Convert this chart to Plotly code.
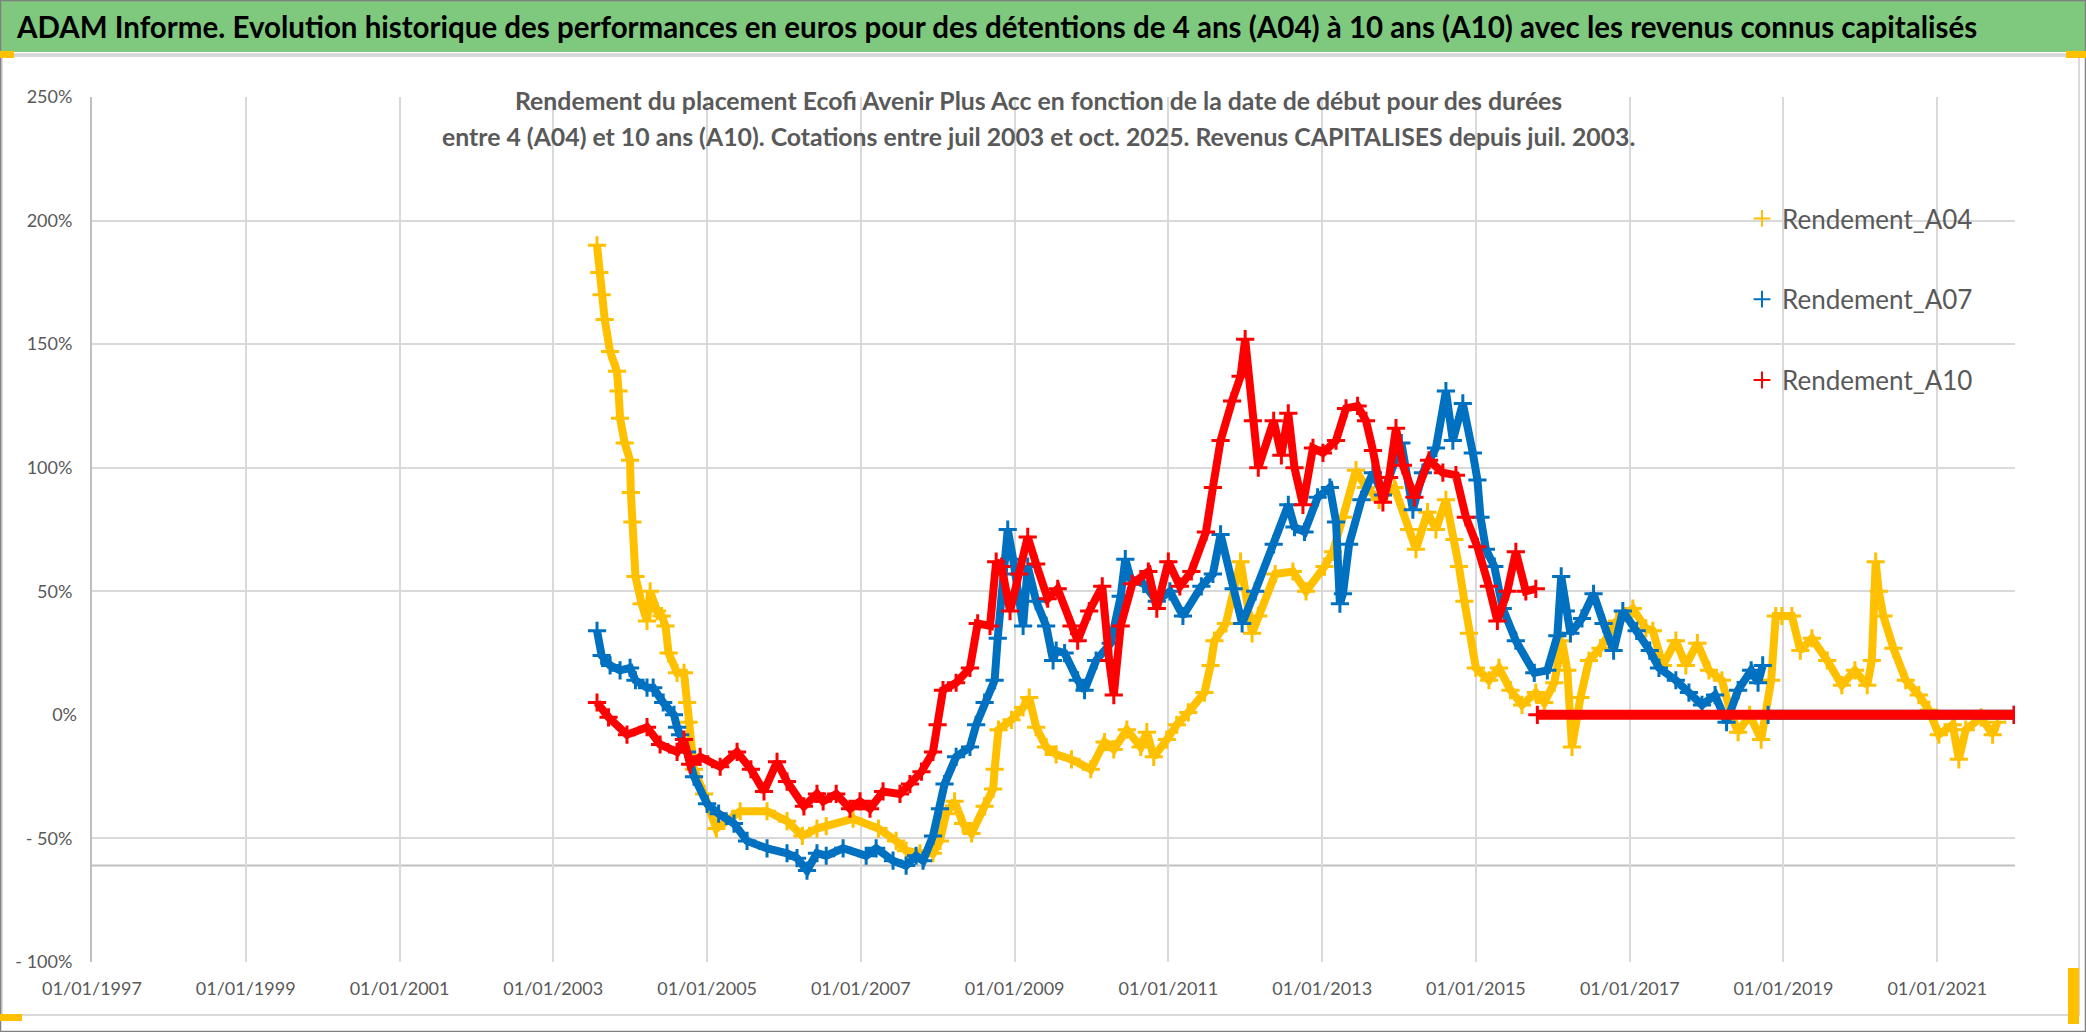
import datetime as dt
import plotly.graph_objects as go

# ---------------- data ----------------
# time as decimal year, values in percent
A04_T = [2003.57, 2003.60, 2003.63, 2003.67, 2003.74, 2003.83, 2003.85, 2003.87, 2003.93, 2004.00,
         2004.01, 2004.03, 2004.07, 2004.15, 2004.22, 2004.26, 2004.35, 2004.41, 2004.46, 2004.50,
         2004.61, 2004.70, 2004.74, 2004.76, 2004.83, 2004.96, 2005.12, 2005.43, 2005.78, 2006.04,
         2006.24, 2006.43, 2006.55, 2006.90, 2007.23, 2007.46, 2007.59, 2007.77, 2007.94, 2008.03,
         2008.11, 2008.22, 2008.33, 2008.44, 2008.61, 2008.72, 2008.74, 2008.79, 2008.96, 2009.11,
         2009.19, 2009.28, 2009.41, 2009.54, 2009.74, 2009.99, 2010.17, 2010.29, 2010.46, 2010.64,
         2010.72, 2010.81, 2010.98, 2011.11, 2011.26, 2011.47, 2011.55, 2011.60, 2011.75, 2011.94,
         2012.09, 2012.17, 2012.39, 2012.62, 2012.79, 2013.03, 2013.14, 2013.27, 2013.44, 2013.57,
         2013.74, 2013.94, 2014.13, 2014.22, 2014.37, 2014.48, 2014.61, 2014.72, 2014.78, 2014.85,
         2014.91, 2015.00, 2015.17, 2015.30, 2015.45, 2015.60, 2015.78, 2015.89, 2016.02, 2016.12,
         2016.19, 2016.25, 2016.36, 2016.47, 2016.62, 2016.83, 2017.04, 2017.21, 2017.30, 2017.43,
         2017.60, 2017.73, 2017.88, 2018.03, 2018.20, 2018.32, 2018.41, 2018.56, 2018.71, 2018.84,
         2018.90, 2018.98, 2019.11, 2019.22, 2019.37, 2019.57, 2019.76, 2019.93, 2020.09, 2020.15,
         2020.20, 2020.24, 2020.30, 2020.43, 2020.59, 2020.76, 2020.89, 2021.02, 2021.20, 2021.28,
         2021.37, 2021.57, 2021.72, 2021.78]
A04_V = [190, 179, 170, 160, 147, 139, 131, 120, 110, 103,
         90, 78, 56, 45, 38, 50, 42, 40, 36, 25,
         17, 17, 5, -3, -22, -32, -46, -39, -39, -43,
         -49, -46, -45, -42, -46, -51, -55, -56, -56, -51,
         -40, -35, -44, -48, -37, -30, -22, -6, -2, 3,
         7, -5, -13, -16, -18, -22, -11, -14, -6, -13,
         -7, -17, -10, -4, 1, 9, 20, 30, 37, 62,
         33, 40, 57, 58, 50, 60, 66, 80, 99, 92,
         87, 92, 75, 67, 82, 75, 87, 71, 60, 46,
         33, 19, 14, 19, 10, 4, 9, 5, 13, 30,
         18, -13, 7, 22, 27, 38, 43, 35, 34, 20,
         30, 20, 29, 18, 14, 0, -7, 0, -10, 14,
         40, 40, 40, 26, 31, 22, 12, 18, 12, 22,
         62, 50, 40, 27, 14, 8, 2, -8, -4, -18,
         -6, -1, -8, -3]

A07_T = [2003.57, 2003.63, 2003.74, 2003.87, 2004.00, 2004.07, 2004.22, 2004.30, 2004.43, 2004.57,
         2004.61, 2004.65, 2004.74, 2004.83, 2005.00, 2005.15, 2005.35, 2005.52, 2005.78, 2006.04,
         2006.17, 2006.30, 2006.43, 2006.55, 2006.77, 2007.07, 2007.20, 2007.42, 2007.59, 2007.72,
         2007.81, 2007.94, 2008.03, 2008.09, 2008.24, 2008.42, 2008.50, 2008.61, 2008.74, 2008.78,
         2008.85, 2008.91, 2008.98, 2009.06, 2009.11, 2009.17, 2009.28, 2009.41, 2009.50, 2009.54,
         2009.65, 2009.82, 2009.91, 2010.06, 2010.25, 2010.38, 2010.44, 2010.51, 2010.68, 2010.85,
         2011.02, 2011.19, 2011.43, 2011.58, 2011.68, 2011.85, 2011.96, 2012.13, 2012.37, 2012.56,
         2012.64, 2012.77, 2012.94, 2013.10, 2013.18, 2013.23, 2013.27, 2013.35, 2013.51, 2013.66,
         2013.79, 2014.03, 2014.18, 2014.31, 2014.48, 2014.61, 2014.70, 2014.83, 2014.96, 2015.02,
         2015.06, 2015.13, 2015.24, 2015.35, 2015.52, 2015.76, 2015.93, 2016.06, 2016.11, 2016.17,
         2016.23, 2016.38, 2016.53, 2016.66, 2016.79, 2016.91, 2017.09, 2017.26, 2017.38, 2017.60,
         2017.77, 2017.94, 2018.11, 2018.26, 2018.41, 2018.58, 2018.67, 2018.73]
A07_V = [34, 24, 20, 18, 19, 14, 11, 11, 5, 0,
         -5, -8, -15, -25, -36, -40, -44, -51, -54, -56,
         -58, -63, -56, -57, -54, -57, -54, -59, -61, -57,
         -59, -49, -38, -28, -17, -13, -4, 5, 14, 31,
         57, 75, 63, 49, 36, 60, 46, 36, 22, 26,
         25, 14, 10, 22, 29, 48, 63, 55, 53, 46,
         50, 40, 52, 57, 73, 51, 37, 50, 69, 85,
         76, 74, 88, 92, 78, 45, 49, 69, 87, 98,
         89, 110, 83, 98, 108, 131, 111, 126, 106, 95,
         80, 67, 60, 43, 30, 17, 18, 32, 56, 42,
         33, 39, 49, 37, 26, 42, 34, 26, 19, 14,
         9, 4, 8, -3, 10, 18, 13, 20]

A10_T = [2003.57, 2003.72, 2003.96, 2004.22, 2004.39, 2004.61, 2004.70, 2004.78, 2004.91, 2005.17,
         2005.39, 2005.57, 2005.74, 2005.91, 2006.04, 2006.26, 2006.43, 2006.51, 2006.68, 2006.86,
         2006.99, 2007.12, 2007.29, 2007.51, 2007.64, 2007.79, 2007.94, 2008.00, 2008.07, 2008.24,
         2008.42, 2008.52, 2008.68, 2008.76, 2008.83, 2008.94, 2009.06, 2009.17, 2009.28, 2009.43,
         2009.56, 2009.74, 2009.82, 2009.97, 2010.14, 2010.23, 2010.29, 2010.38, 2010.53, 2010.74,
         2010.85, 2011.00, 2011.15, 2011.30, 2011.49, 2011.58, 2011.68, 2011.83, 2011.94, 2012.00,
         2012.10, 2012.17, 2012.37, 2012.47, 2012.56, 2012.64, 2012.75, 2012.88, 2013.01, 2013.18,
         2013.31, 2013.46, 2013.57, 2013.66, 2013.79, 2013.87, 2013.96, 2014.05, 2014.20, 2014.39,
         2014.57, 2014.74, 2014.87, 2015.02, 2015.17, 2015.28, 2015.41, 2015.52, 2015.65, 2015.78]
A10_V = [5, -1, -8, -5, -12, -15, -10, -20, -17, -21,
         -15, -22, -31, -19, -27, -37, -32, -35, -32, -38,
         -35, -38, -31, -32, -28, -23, -15, -4, 10, 13,
         19, 37, 36, 62, 60, 42, 57, 72, 61, 47,
         51, 36, 30, 42, 52, 22, 8, 36, 53, 58,
         43, 62, 52, 58, 74, 92, 111, 127, 137, 152,
         119, 100, 119, 105, 122, 100, 85, 108, 106, 111,
         124, 125, 119, 107, 86, 96, 116, 101, 88, 103,
         98, 97, 80, 68, 52, 38, 50, 66, 50, 51]

# start dates for which the holding period is not yet complete: value shown as 0
A07_ZERO_T = [2018.80, 2022.00]
A07_ZERO_V = [0, 0]
A10_ZERO_T = [2015.80, 2022.00]
A10_ZERO_V = [0, 0]

SERIES_NAMES = ["Rendement_A04", "Rendement_A07", "Rendement_A10"]
COLORS = ["#FFC000", "#0070C0", "#FF0000"]

Y_TICKS = [-100, -50, 50, 100, 150, 200, 250]
Y_TICK_TEXT = ["- 100%", "- 50%", "50%", "100%", "150%", "200%", "250%"]
Y_ZERO_TICK = [0]
Y_ZERO_TEXT = ["0%"]
AXIS_CROSS = -61
X_RANGE = ["1997-01-01", "2022-01-05"]

TITLE = ("ADAM Informe. Evolution historique des performances en euros pour des détentions "
         "de 4 ans (A04) à 10 ans (A10) avec les revenus connus capitalisés")
SUB1 = "Rendement du placement Ecofi Avenir Plus Acc en fonction de la date de début pour des durées"
SUB2 = ("entre 4 (A04) et 10 ans (A10). Cotations entre juil 2003 et oct. 2025. "
        "Revenus CAPITALISES depuis juil. 2003.")


def to_date(t):
    y = int(t)
    a = dt.datetime(y, 1, 1)
    b = dt.datetime(y + 1, 1, 1)
    return a + (b - a) * (t - y)


def dates(ts):
    return [to_date(t) for t in ts]


# ---------------- layout geometry (pixels) ----------------
W, H = 2086, 1032
L, R, T, B = 92, 2015, 97, 962


def px(x):
    return (x - L) / (R - L)


def py(y):
    return (B - y) / (B - T)


FONT = "Lato, 'Open Sans', sans-serif"
GRAY_TXT = "#595959"
GRID = "#D9D9D9"

fig = go.Figure()

series = [
    (A04_T, A04_V, None, None),
    (A07_T, A07_V, A07_ZERO_T, A07_ZERO_V),
    (A10_T, A10_V, A10_ZERO_T, A10_ZERO_V),
]

for i, (ts, vs, zt, zv) in enumerate(series):
    c = COLORS[i]
    # continuous band under the dense markers
    fig.add_trace(go.Scatter(x=dates(ts), y=vs, mode="lines",
                             line=dict(color=c, width=8), showlegend=False,
                             legendgroup=SERIES_NAMES[i], hoverinfo="skip"))
    fig.add_trace(go.Scatter(x=dates(ts), y=vs, mode="markers", name=SERIES_NAMES[i],
                             legendgroup=SERIES_NAMES[i],
                             marker=dict(symbol="cross-thin", size=13, color=c,
                                         line=dict(color=c, width=3))))

# zero-valued periods, drawn on the overlaid axis (same scale) so they sit on top
for i, (ts, vs, zt, zv) in enumerate(series):
    if zt is None:
        continue
    c = COLORS[i]
    fig.add_trace(go.Scatter(x=dates(zt), y=zv, mode="lines+markers", yaxis="y2",
                             line=dict(color=c, width=10), showlegend=False,
                             marker=dict(symbol="cross-thin", size=13, color=c,
                                         line=dict(color=c, width=3)),
                             legendgroup=SERIES_NAMES[i], hoverinfo="skip"))

shapes = []
# green header band
shapes.append(dict(type="rect", xref="paper", yref="paper", x0=px(0), x1=px(W), y0=py(52), y1=py(0),
                   fillcolor="#7FC97F", line=dict(width=0), layer="above"))
shapes.append(dict(type="line", xref="paper", yref="paper", x0=px(0), x1=px(W), y0=py(55), y1=py(55),
                   line=dict(color="#D0D0D0", width=3), layer="above"))
# chart frame
shapes.append(dict(type="rect", xref="paper", yref="paper", x0=px(2), x1=px(2079), y0=py(1015), y1=py(56),
                   line=dict(color=GRID, width=2), fillcolor="rgba(0,0,0,0)", layer="above"))
# outer border
shapes.append(dict(type="rect", xref="paper", yref="paper", x0=px(0.5), x1=px(W - 0.5), y0=py(H - 0.5),
                   y1=py(0.5), line=dict(color="#808080", width=1.5), fillcolor="rgba(0,0,0,0)",
                   layer="above"))
# selection handles
for (x0, x1, y0, y1) in [(0, 14, 51, 58), (2066, 2086, 51, 58), (0, 22, 1014, 1021), (2068, 2079, 968, 1024)]:
    shapes.append(dict(type="rect", xref="paper", yref="paper", x0=px(x0), x1=px(x1), y0=py(y1), y1=py(y0),
                       fillcolor="#FFC000", line=dict(width=0), layer="above"))
# white box behind the chart title and behind the legend
shapes.append(dict(type="rect", xref="paper", yref="paper", x0=px(433), x1=px(1646), y0=py(166), y1=py(68),
                   fillcolor="white", line=dict(width=0), layer="between"))
shapes.append(dict(type="rect", xref="paper", yref="paper", x0=px(1702), x1=px(2017), y0=py(422), y1=py(183),
                   fillcolor="white", line=dict(width=0), layer="between"))
# horizontal axis line (crosses the vertical axis at AXIS_CROSS)
shapes.append(dict(type="line", xref="paper", yref="y", x0=0, x1=1, y0=AXIS_CROSS, y1=AXIS_CROSS,
                   line=dict(color="#BFBFBF", width=2), layer="between"))

annotations = [
    dict(text="<b>" + TITLE + "</b>", xref="paper", yref="paper", x=px(14), y=py(26),
         xanchor="left", yanchor="middle", showarrow=False,
         font=dict(family=FONT, size=29.5, color="black")),
    dict(text="<b>" + SUB1 + "</b>", xref="paper", yref="paper", x=px(1038), y=py(100),
         xanchor="center", yanchor="middle", showarrow=False,
         font=dict(family=FONT, size=24.8, color=GRAY_TXT)),
    dict(text="<b>" + SUB2 + "</b>", xref="paper", yref="paper", x=px(1038), y=py(137),
         xanchor="center", yanchor="middle", showarrow=False,
         font=dict(family=FONT, size=24.8, color=GRAY_TXT)),
]

fig.update_layout(
    width=W, height=H,
    margin=dict(l=L, r=W - R, t=T, b=H - B, pad=0),
    paper_bgcolor="white", plot_bgcolor="white",
    font=dict(family=FONT, size=18, color=GRAY_TXT),
    shapes=shapes, annotations=annotations,
    showlegend=True,
    legend=dict(x=px(1742), y=py(195), xanchor="left", yanchor="top",
                bgcolor="rgba(0,0,0,0)", font=dict(family=FONT, size=26, color=GRAY_TXT),
                traceorder="grouped", tracegroupgap=44, itemsizing="constant"),
    xaxis=dict(type="date", range=X_RANGE, tick0="1997-01-01", dtick="M24",
               tickformat="%d/%m/%Y", showgrid=True, gridcolor=GRID, gridwidth=2,
               zeroline=False, showline=False, ticks="", ticklabelstandoff=14,
               tickfont=dict(family=FONT, size=18, color=GRAY_TXT)),
    yaxis=dict(range=[-100, 250], tickvals=Y_TICKS, ticktext=Y_TICK_TEXT,
               showgrid=True, gridcolor=GRID, gridwidth=2, zeroline=False,
               showline=True, linecolor="#BFBFBF", linewidth=2, ticks="", ticklabelstandoff=14,
               tickfont=dict(family=FONT, size=18, color=GRAY_TXT)),
    yaxis2=dict(range=[-100, 250], overlaying="y", side="left", anchor="x", matches="y",
                tickvals=Y_ZERO_TICK, ticktext=Y_ZERO_TEXT, showgrid=False, zeroline=False,
                showline=False, ticks="", ticklabelstandoff=14,
                tickfont=dict(family=FONT, size=18, color=GRAY_TXT)),
)

fig.write_html("out.html", config={"displayModeBar": False},
               post_script="document.body.style.margin='0';document.body.style.overflow='hidden';")
